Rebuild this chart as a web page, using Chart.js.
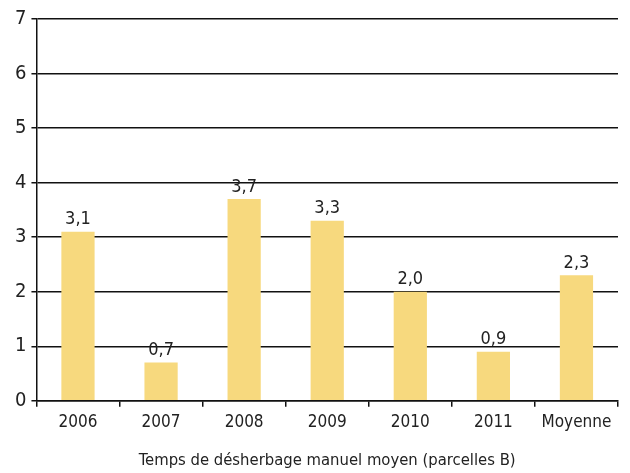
<!DOCTYPE html>
<html>
<head>
<meta charset="utf-8">
<script src="https://cdn.jsdelivr.net/npm/chart.js@4"></script>
<style>
  html, body { margin: 0; padding: 0; background: #fff; }
  #wrap { width: 630px; height: 473px; }
</style>
</head>
<body>
<div id="wrap"><canvas id="c" width="630" height="473"></canvas></div>
<script>
const categories = ["2006", "2007", "2008", "2009", "2010", "2011", "Moyenne"];
const values = [3.1, 0.7, 3.7, 3.3, 2.0, 0.9, 2.3];
const yTicks = [0, 1, 2, 3, 4, 5, 6, 7];
const xTitle = "Temps de désherbage manuel moyen (parcelles B)";

const FONT = "'Liberation Sans Narrow', 'DejaVu Sans Condensed', 'Open Sans', sans-serif";

// value labels above each bar, French decimal comma
const valueLabels = {
  id: 'valueLabels',
  afterDatasetsDraw(chart) {
    const ctx = chart.ctx;
    const meta = chart.getDatasetMeta(0);
    ctx.save();
    ctx.font = "18px " + FONT;
    ctx.fillStyle = "#222";
    ctx.textAlign = "center";
    ctx.textBaseline = "bottom";
    meta.data.forEach((bar, i) => {
      ctx.fillText(values[i].toFixed(1).replace('.', ','), bar.x, bar.y - 3);
    });
    ctx.restore();
  }
};

new Chart(document.getElementById("c"), {
  type: 'bar',
  data: {
    labels: categories,
    datasets: [{
      data: values,
      backgroundColor: '#F7D97E',
      categoryPercentage: 1,
      barPercentage: 0.4
    }]
  },
  options: {
    responsive: false,
    animation: false,
    layout: { padding: { top: 19, right: 12, left: 10, bottom: 0 } },
    plugins: { legend: { display: false }, tooltip: { enabled: false } },
    scales: {
      x: {
        offset: true,
        grid: { offset: true, drawOnChartArea: false, drawTicks: true, tickLength: 6, color: '#111', lineWidth: 1.5 },
        border: { display: true, color: '#111', width: 1.5 },
        ticks: { color: '#222', font: { family: FONT, size: 17 }, padding: 6 },
        title: { display: true, text: xTitle, color: '#222', font: { family: FONT, size: 16.5 }, padding: { top: 12, bottom: 2 } }
      },
      y: {
        min: 0,
        max: 7,
        afterBuildTicks(scale) { scale.ticks = yTicks.map(v => ({ value: v })); },
        grid: { color: '#111', lineWidth: 1.5, tickLength: 5 },
        border: { display: true, color: '#111', width: 1.5 },
        ticks: { color: '#222', font: { family: FONT, size: 20 }, padding: 5 }
      }
    }
  },
  plugins: [valueLabels]
});
</script>
</body>
</html>
